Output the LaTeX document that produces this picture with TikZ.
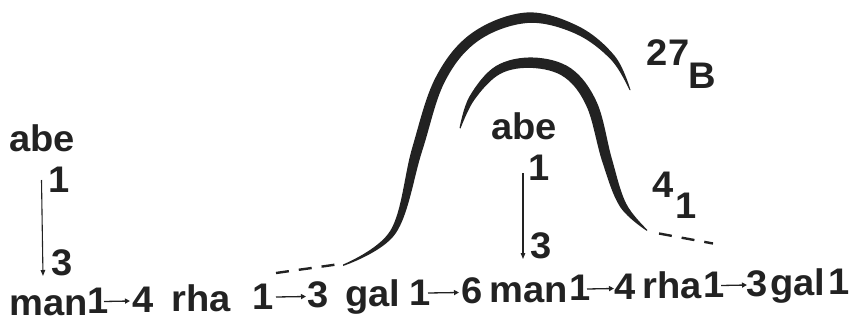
\documentclass[tikz,border=0pt]{standalone}
\usepackage{fontspec}
\setmainfont{Liberation Sans}[FakeStretch=1.03]
\usetikzlibrary{arrows.meta}
\definecolor{ink}{HTML}{222222}
\tikzset{
 lbl/.style={inner sep=0pt, anchor=base, font=\fontsize{37}{42}\selectfont\bfseries, text=ink},
 harr/.style={draw=ink, line width=1.3pt, -{Triangle[length=5pt,width=5pt]}},
 varr/.style={draw=ink, line width=1.1pt, -{Triangle[length=6pt,width=4.5pt]}},
 link/.style={draw=ink, line width=2.4pt, dash pattern=on 13pt off 10pt},
 band/.style={fill=ink}
}
\begin{document}
\begin{tikzpicture}[x=1pt,y=-1pt]
\useasboundingbox (0,0) rectangle (851,324);
% bottom chain
\node[lbl] (manA) at (49,315) {man};
\node[lbl] (oneA) at (98,313.7) {1};
\node[lbl] (fourA) at (143,312.5) {4};
\node[lbl] (rhaA) at (201,311) {rha};
\node[lbl] (oneB) at (263,309.3) {1};
\node[lbl] (threeA) at (318,307.8) {3};
\node[lbl] (galA) at (373,306.3) {gal};
\node[lbl] (oneC) at (420,305.1) {1};
\node[lbl] (six) at (472,303.7) {6};
\node[lbl] (manB) at (529,302.2) {man};
\node[lbl] (oneD) at (580,300.9) {1};
\node[lbl] (fourB) at (625,299.6) {4};
\node[lbl] (rhaB) at (672,298.4) {rha};
\node[lbl] (oneE) at (714,297.3) {1};
\node[lbl] (threeB) at (757,296.1) {3};
\node[lbl] (galB) at (798,295) {gal};
\node[lbl] (oneF) at (839,294) {1};
% small link arrows
\coordinate (a1s) at (104,301.5); \coordinate (a1e) at (130,301);
\coordinate (a2s) at (276,297); \coordinate (a2e) at (306,296.5);
\coordinate (a3s) at (428,293); \coordinate (a3e) at (459,292.5);
\coordinate (a4s) at (587,289); \coordinate (a4e) at (614,288.5);
\coordinate (a5s) at (721,285.5); \coordinate (a5e) at (747,285);
\foreach \s/\e in {a1s/a1e,a2s/a2e,a3s/a3e,a4s/a4e,a5s/a5e} \draw[harr] (\s) -- (\e);
% left branch
\node[lbl] (abeA) at (42,151) {abe};
\node[lbl] (upA) at (59,192) {1};
\node[lbl] (dnA) at (62,275) {3};
\coordinate (vA1) at (41.5,180); \coordinate (vA2) at (43,276);
\draw[varr] (vA1) -- (vA2);
% middle branch
\node[lbl] (abeB) at (524,139) {abe};
\node[lbl] (upB) at (539,180) {1};
\node[lbl] (dnB) at (541,258) {3};
\coordinate (vB1) at (523,173); \coordinate (vB2) at (523,259);
\draw[varr] (vB1) -- (vB2);
% labels of arcs
\node[lbl] (lab27) at (668,65) {27};
\node[lbl] (labB) at (702,88) {B};
\node[lbl] (lab4) at (663,197) {4};
\node[lbl] (lab1) at (686,218) {1};
% outer arc (27B)
\fill[band] plot[smooth,tension=0.6] coordinates {(343,264.5) (390.5,230.4) (412,148.5) (435.5,77.7) (472,33) (526.6,12.5) (578.7,26.4) (615,56.3) (630.5,90)}
 -- plot[smooth,tension=0.6] coordinates {(629.5,90) (611,59.7) (575.3,33.6) (527.4,23) (478,41) (444.5,82.3) (422,151.5) (395.5,233.6) (343,266)} -- cycle;
% inner arc (41)
\fill[band] plot[smooth,tension=0.6] coordinates {(459.5,128) (469.5,96.4) (495.8,66.1) (533.2,57.5) (571.2,68.5) (597,102.7) (611.8,158.5) (626,203.3) (647,229.5)}
 -- plot[smooth,tension=0.6] coordinates {(647,231) (620,206.7) (602.2,161.5) (587,107.3) (564.8,77.5) (532.8,68) (500.2,73.9) (474.5,99.6) (460.5,128.5)} -- cycle;
% dashed continuations
\coordinate (dL1) at (276,273); \coordinate (dL2) at (340,264);
\draw[link] (dL1) -- (dL2);
\coordinate (dR1) at (659,233.5); \coordinate (dR2) at (713,243.5);
\draw[link] (dR1) -- (dR2);
\end{tikzpicture}
\end{document}
